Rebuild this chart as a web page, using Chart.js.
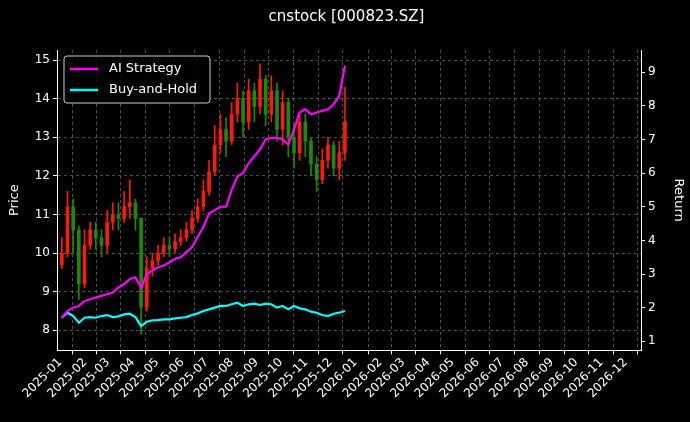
<!DOCTYPE html>
<html>
<head>
<meta charset="utf-8">
<script src="https://cdn.jsdelivr.net/npm/chart.js@4"></script>
<style>
  html, body { margin: 0; padding: 0; background: #000; }
  #wrap { width: 690px; height: 422px; }
</style>
</head>
<body>
<div id="wrap"><canvas id="chart" width="690" height="422"></canvas></div>
<script>
// weekly candles, day offsets from 2025-01-01
const weekDays = [2,9,16,23,30,37,44,51,58,65, 72,79,86,93,100,107,114,121,128,135,
  142,149,156,163,170,177,184,191,198,205, 212,219,226,233,240,247,254,261,268,275,
  282,289,296,303,310,317,324,331,338,345, 352];
const closes = [10.0,11.2,10.6,9.2,10.2,10.6,10.4,10.2,10.8,11.0,
  10.9,11.2,11.3,10.9,8.6,9.6,9.8,10.0,10.2,10.1,
  10.3,10.4,10.6,10.9,11.2,11.6,12.1,12.8,13.2,12.9,
  13.6,14.0,13.4,14.2,13.8,14.5,13.6,14.2,13.2,13.9,
  13.0,12.6,13.4,12.9,12.3,11.9,12.4,12.8,12.2,12.6,
  13.4];
const highs = [10.4,11.6,11.4,10.7,10.6,10.8,10.8,10.6,11.1,11.3,
  11.3,11.6,11.9,11.4,10.9,9.9,10.0,10.2,10.4,10.4,
  10.5,10.6,10.8,11.1,11.4,11.9,12.4,13.3,13.6,13.5,
  13.9,14.4,14.2,14.5,14.4,14.9,14.6,14.6,14.4,14.2,
  14.0,13.3,13.6,13.6,13.0,12.5,12.7,13.0,12.9,12.9,
  14.3];
const lows = [9.6,9.9,10.0,8.8,9.1,10.1,10.1,9.9,10.0,10.6,
  10.6,10.8,10.9,10.6,7.9,8.5,9.4,9.7,9.9,9.9,
  10.0,10.2,10.3,10.5,10.8,11.1,11.5,12.0,12.6,12.5,
  12.8,13.4,13.0,13.2,13.4,13.6,13.3,13.4,12.9,12.8,
  12.5,12.2,12.4,12.5,12.0,11.6,11.8,12.2,12.0,11.9,
  12.4];
const aiReturn = [1.7,1.9,2.0,2.05,2.2,2.25,2.3,2.35,2.4,2.45,
  2.6,2.7,2.85,2.9,2.6,3.0,3.1,3.2,3.25,3.35,
  3.45,3.5,3.65,3.8,4.1,4.4,4.8,4.9,5.0,5.0,
  5.5,5.9,6.0,6.3,6.5,6.7,7.0,7.05,7.05,7.0,
  6.85,7.3,7.8,7.9,7.75,7.8,7.85,7.9,8.05,8.3,
  9.2];
const bhReturn = [1.7,1.85,1.75,1.55,1.7,1.72,1.7,1.75,1.78,1.72,
  1.74,1.8,1.82,1.72,1.45,1.58,1.62,1.63,1.65,1.65,
  1.68,1.7,1.72,1.78,1.83,1.9,1.95,2.0,2.05,2.05,
  2.1,2.15,2.05,2.1,2.12,2.08,2.12,2.1,2.0,2.05,
  1.95,2.05,1.98,1.95,1.88,1.85,1.78,1.75,1.82,1.85,
  1.9];
const firstOpen = 9.7;

const opens = closes.map((c, i) => i ? closes[i - 1] : firstOpen);
const candleColor = closes.map((c, i) => c >= opens[i] ? '#ff1a00' : '#1a8c00');

// month ticks (day offset from 2025-01-01)
const base = Date.UTC(2025, 0, 1);
const monthTicks = [];
for (let m = 0; m < 24; m++) {
    const d = new Date(Date.UTC(2025, m, 1));
    monthTicks.push({ value: (d - base) / 86400000, label: d.getUTCFullYear() + '-' + String(d.getUTCMonth() + 1).padStart(2, '0') });
}

const gridColor = 'rgba(140,140,140,0.55)';

const legendBox = {
    id: 'legendBox',
    afterDraw(chart) {
        const ctx = chart.ctx;
        const a = chart.chartArea;
        const x = a.left + 7, y = a.top + 6;
        ctx.save();
        ctx.fillStyle = 'rgba(0,0,0,0.8)';
        ctx.strokeStyle = '#cccccc';
        ctx.lineWidth = 1;
        ctx.beginPath();
        ctx.roundRect(x, y, 146, 47, 3);
        ctx.fill();
        ctx.stroke();
        const items = [['AI Strategy', '#ff00ff'], ['Buy-and-Hold', '#00ffff']];
        ctx.font = '13px "DejaVu Sans"';
        ctx.textBaseline = 'middle';
        items.forEach((it, i) => {
            const ly = y + 13 + i * 21;
            ctx.strokeStyle = it[1];
            ctx.lineWidth = 2.5;
            ctx.beginPath();
            ctx.moveTo(x + 6, ly);
            ctx.lineTo(x + 34, ly);
            ctx.stroke();
            ctx.fillStyle = '#ffffff';
            ctx.fillText(it[0], x + 45, ly);
        });
        ctx.restore();
    }
};

new Chart(document.getElementById('chart').getContext('2d'), {
    data: {
        datasets: [
            {
                type: 'line', label: 'AI Strategy', yAxisID: 'y1',
                data: weekDays.map((d, i) => ({ x: d, y: aiReturn[i] })),
                borderColor: '#ff00ff', borderWidth: 2.2, pointRadius: 0, tension: 0, order: 0
            },
            {
                type: 'line', label: 'Buy-and-Hold', yAxisID: 'y1',
                data: weekDays.map((d, i) => ({ x: d, y: bhReturn[i] })),
                borderColor: '#00ffff', borderWidth: 2.2, pointRadius: 0, tension: 0, order: 0
            },
            {
                type: 'bar', label: 'wick', yAxisID: 'y',
                data: weekDays.map((d, i) => ({ x: d, y: [lows[i], highs[i]] })),
                backgroundColor: candleColor, barThickness: 1, grouped: false, order: 2
            },
            {
                type: 'bar', label: 'body', yAxisID: 'y',
                data: weekDays.map((d, i) => ({ x: d, y: [opens[i], closes[i]] })),
                backgroundColor: candleColor, barThickness: 3, grouped: false, order: 1
            }
        ]
    },
    plugins: [legendBox],
    options: {
        responsive: false,
        animation: false,
        layout: { padding: { top: 0, left: 5, right: 2, bottom: 20 } },
        plugins: {
            legend: { display: false },
            tooltip: { enabled: false },
            title: {
                display: true, text: 'cnstock [000823.SZ]', color: '#ffffff',
                font: { size: 15, family: 'DejaVu Sans', weight: 'normal' },
                padding: { top: 8, bottom: 24 }
            }
        },
        scales: {
            x: {
                type: 'linear', min: -4, max: 718, offset: false,
                afterBuildTicks: axis => { axis.ticks = monthTicks.map(t => ({ value: t.value })); },
                ticks: {
                    color: '#ffffff', font: { size: 12, family: 'DejaVu Sans' },
                    minRotation: 45, maxRotation: 45, autoSkip: false, padding: 1,
                    callback: v => (monthTicks.find(t => t.value === v) || {}).label
                },
                grid: { color: gridColor, drawTicks: true, tickColor: '#ffffff', tickLength: 4 },
                border: { color: '#ffffff', dash: [3, 3] }
            },
            y: {
                position: 'left', min: 7.48, max: 15.26,
                afterBuildTicks: axis => { axis.ticks = [8, 9, 10, 11, 12, 13, 14, 15].map(v => ({ value: v })); },
                afterFit: s => { s.width = 52; },
                title: { display: true, text: 'Price', color: '#ffffff', font: { size: 13, family: 'DejaVu Sans' }, padding: 2 },
                ticks: { color: '#ffffff', font: { size: 12, family: 'DejaVu Sans' } },
                grid: { color: gridColor, tickColor: '#ffffff', tickLength: 4 },
                border: { color: '#ffffff', dash: [3, 3] }
            },
            y1: {
                position: 'right', min: 0.73, max: 9.66,
                afterBuildTicks: axis => { axis.ticks = [1, 2, 3, 4, 5, 6, 7, 8, 9].map(v => ({ value: v })); },
                afterFit: s => { s.width = 47; },
                title: { display: true, text: 'Return', color: '#ffffff', font: { size: 13, family: 'DejaVu Sans' }, padding: 2 },
                ticks: { color: '#ffffff', font: { size: 12, family: 'DejaVu Sans' } },
                grid: { drawOnChartArea: false, tickColor: '#ffffff', tickLength: 4 },
                border: { color: '#ffffff' }
            }
        }
    }
});
</script>
</body>
</html>
